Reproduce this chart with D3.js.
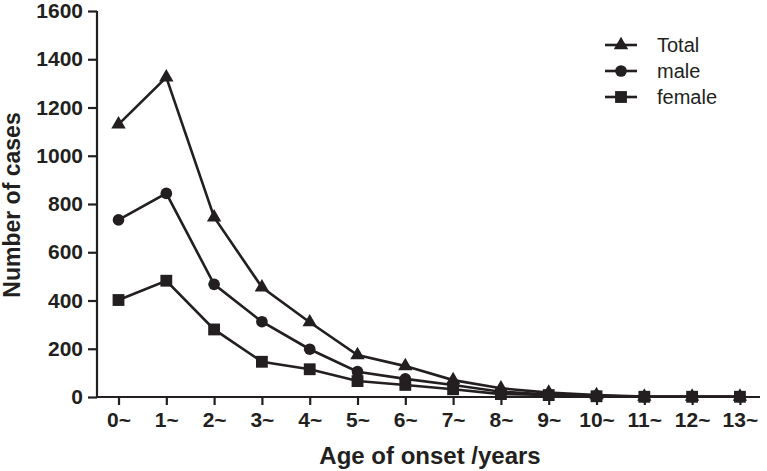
<!DOCTYPE html>
<html><head><meta charset="utf-8">
<script src="https://cdn.jsdelivr.net/npm/d3@7"></script>
<style>body{margin:0;background:#fff}svg{display:block}</style>
</head><body>
<script>
const categories = ["0~","1~","2~","3~","4~","5~","6~","7~","8~","9~","10~","11~","12~","13~"];
const total  = [1130,1325,745,455,310,174,128,70,36,18,8,2,2,2];
const male   = [734,844,467,312,198,105,75,50,22,10,5,1,1,1];
const female = [402,482,280,146,115,66,50,32,12,8,3,1,1,1];
const yTicks = [0,200,400,600,800,1000,1200,1400,1600];
const seriesNames = ["Total","male","female"];

const W=767,H=471, col="#231f20", ff="Liberation Sans, Arial, sans-serif";
const svg=d3.select("body").append("svg").attr("width",W).attr("height",H);
const x=d3.scaleLinear().domain([-0.45,13.42]).range([97,760]);
const y=d3.scaleLinear().domain([0,1600]).range([397,11]);

// axes
const ya=svg.append("g").attr("transform","translate(97,0)")
  .call(d3.axisLeft(y).tickValues(yTicks).tickFormat(d3.format("d")).tickSize(9).tickPadding(5).tickSizeOuter(0));
const xa=svg.append("g").attr("transform","translate(0,397)")
  .call(d3.axisBottom(x).tickValues(d3.range(categories.length)).tickFormat(i=>categories[i]).tickSize(8).tickPadding(7).tickSizeOuter(0));
[ya,xa].forEach(g=>{
  g.attr("font-family",ff).attr("font-size",21);
  g.select(".domain").attr("stroke",col).attr("stroke-width",2.2);
  g.selectAll(".tick line").attr("stroke",col).attr("stroke-width",2.2);
  g.selectAll(".tick text").attr("fill",col).attr("font-family",ff)
   .attr("font-weight","bold").attr("font-size",21);
});
xa.select(".domain").attr("d","M97,0H760");
ya.select(".domain").attr("d","M0,11V397");

svg.append("text").attr("x",430).attr("y",464).attr("text-anchor","middle")
  .attr("font-family",ff).attr("font-weight","bold").attr("font-size",24)
  .attr("fill",col).text("Age of onset /years");
svg.append("text").attr("transform","translate(20,205) rotate(-90)").attr("text-anchor","middle")
  .attr("font-family",ff).attr("font-weight","bold").attr("font-size",23)
  .attr("fill",col).text("Number of cases");

const symTypes=[d3.symbolTriangle,d3.symbolCircle,d3.symbolSquare];
const symSizes=[90,107,140];
const data=[total,male,female];
const line=d3.line().x((d,i)=>x(i)).y(d=>y(d));
[2,1,0].forEach(k=>{
  svg.append("path").attr("d",line(data[k])).attr("fill","none").attr("stroke",col).attr("stroke-width",2.6);
  svg.append("g").selectAll("path").data(data[k]).join("path")
    .attr("transform",(d,i)=>`translate(${x(i)},${y(d)})`)
    .attr("d",d3.symbol().type(symTypes[k]).size(symSizes[k])).attr("fill",col);
});

// legend
const lg=svg.append("g");
seriesNames.forEach((n,k)=>{
  const yy=45+k*26;
  lg.append("line").attr("x1",605).attr("x2",637).attr("y1",yy).attr("y2",yy).attr("stroke",col).attr("stroke-width",2.6);
  lg.append("path").attr("transform",`translate(621,${yy})`).attr("d",d3.symbol().type(symTypes[k]).size(symSizes[k])).attr("fill",col);
  lg.append("text").attr("x",657).attr("y",yy+7).attr("font-family",ff)
    .attr("font-size",20).attr("fill",col).text(n);
});
</script>
</body></html>
